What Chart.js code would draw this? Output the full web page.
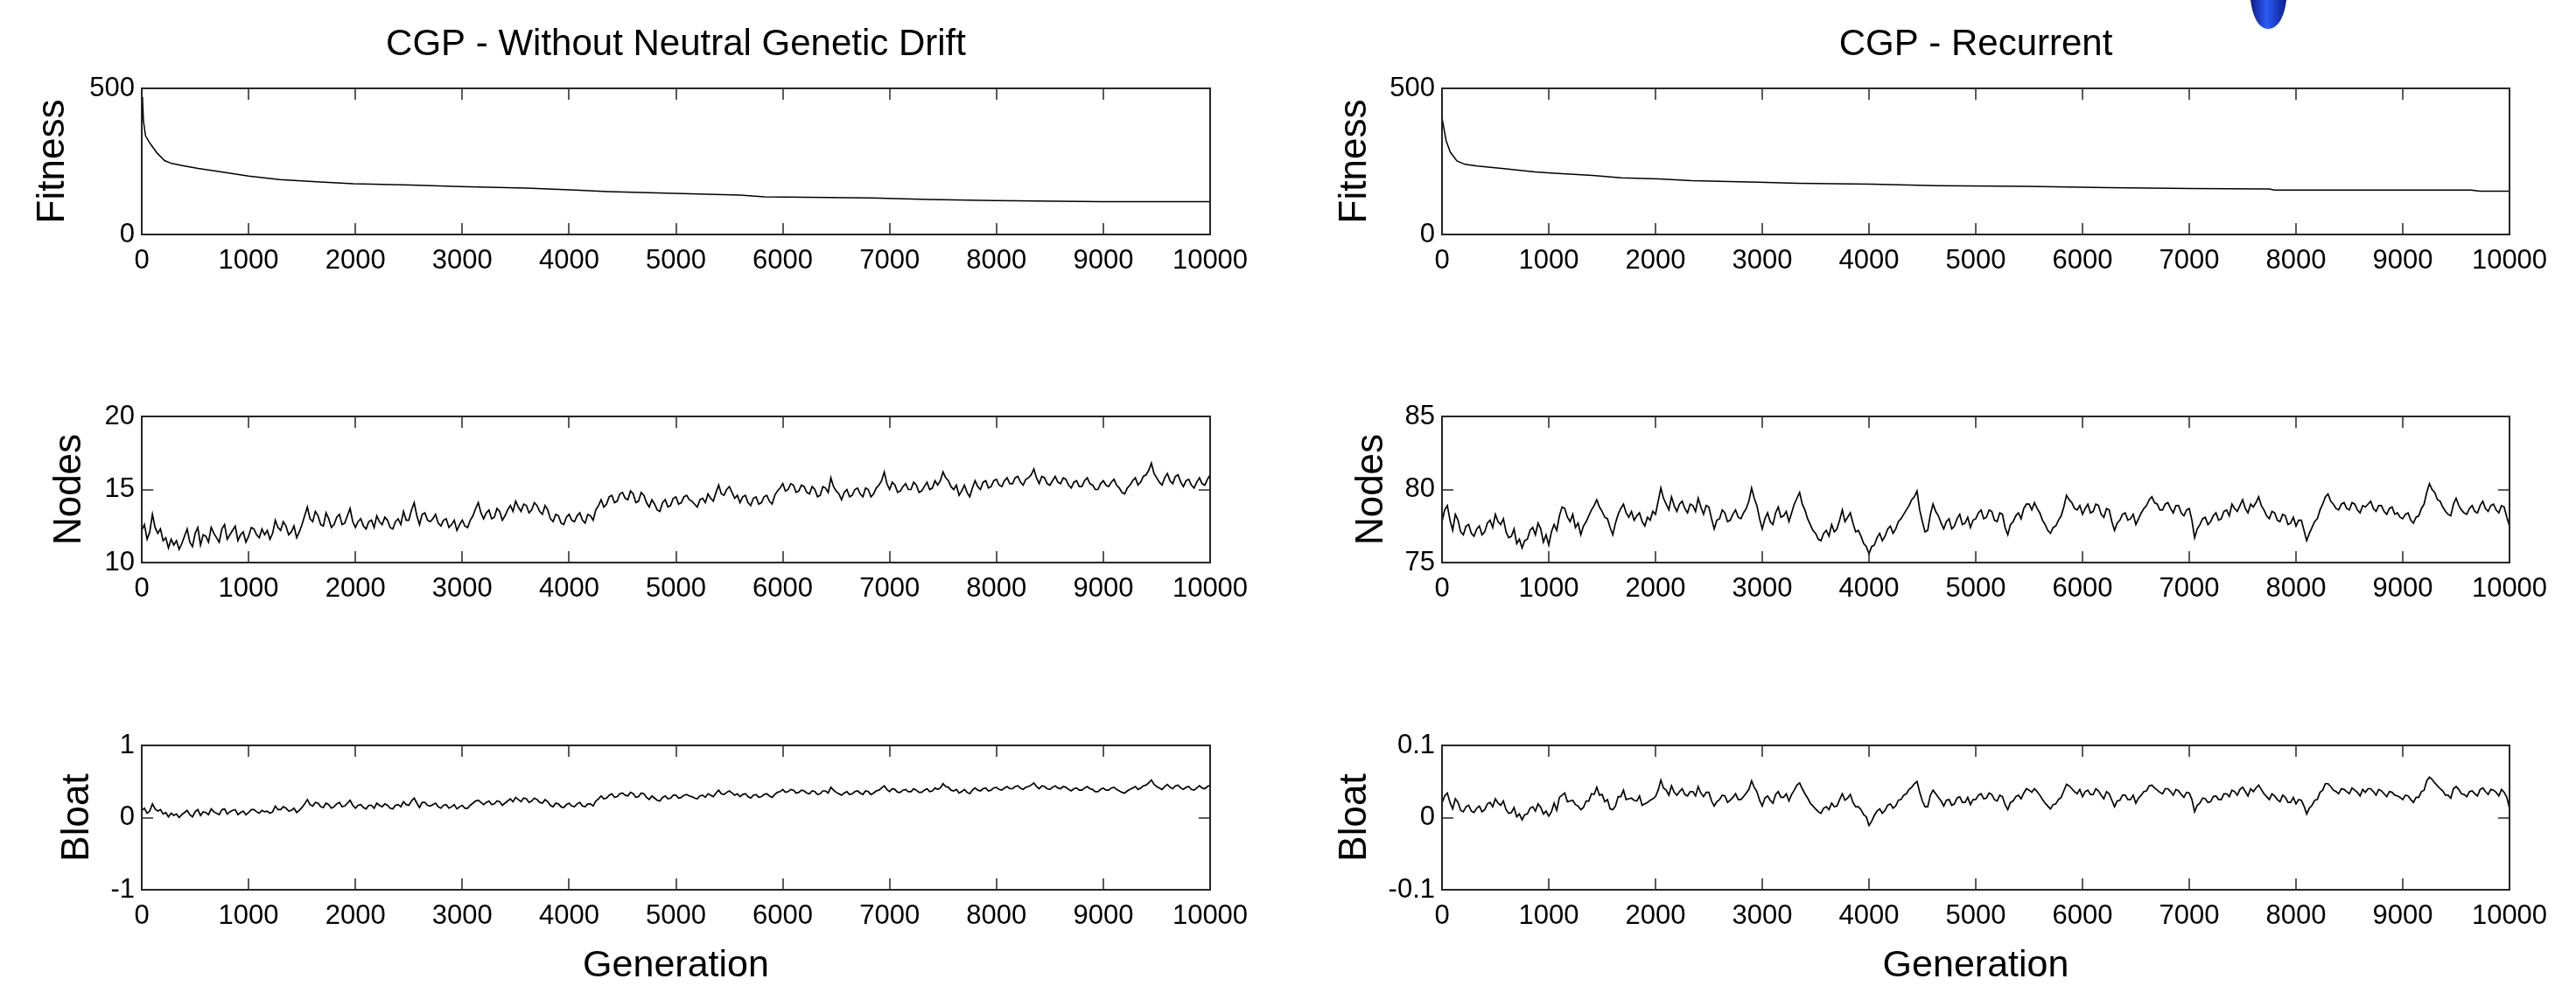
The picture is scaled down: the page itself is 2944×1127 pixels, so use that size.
<!DOCTYPE html>
<html>
<head>
<meta charset="utf-8">
<title>CGP - Without Neutral Genetic Drift / CGP - Recurrent</title>
<script src="https://cdn.jsdelivr.net/npm/chart.js@4.4.0/dist/chart.umd.min.js"></script>
<style>
  html, body { margin: 0; padding: 0; background: #fff; }
  #wrap { position: relative; width: 2944px; height: 1127px; overflow: hidden; background: #fff; }
  #wrap canvas { position: absolute; left: 0; top: 0; }
</style>
</head>
<body>
<div id="wrap">
  <canvas id="fitL" width="2944" height="1127"></canvas>
  <canvas id="fitR" width="2944" height="1127"></canvas>
  <canvas id="nodL" width="2944" height="1127"></canvas>
  <canvas id="nodR" width="2944" height="1127"></canvas>
  <canvas id="blL" width="2944" height="1127"></canvas>
  <canvas id="blR" width="2944" height="1127"></canvas>
</div>
<script>
'use strict';

// titles / labels
const titleLeft = 'CGP - Without Neutral Genetic Drift';
const titleRight = 'CGP - Recurrent';
const xLabel = 'Generation';

// fitness (generation, value)
const fitGenLeft = [0, 8, 16, 35, 77, 145, 213, 280, 390, 527, 637, 800, 1000, 1290, 1670, 1980, 2520, 2980, 3600, 4060, 4360, 5060, 5600, 5830, 6830, 7370, 7980, 8980, 10000];
const fitLeft = [470, 460, 388, 338, 312, 278, 253, 243, 235, 226, 220, 211, 200, 188, 180, 174, 169, 164, 159, 152, 147, 140, 135, 129, 125, 120, 116, 112, 112];

const fitGenRight = [0, 10, 38, 77, 140, 215, 330, 560, 870, 1020, 1410, 1680, 2030, 2340, 2960, 3330, 4030, 4640, 5480, 6250, 7020, 7750, 7800, 9640, 9720, 10000];
const fitRight = [400, 380, 322, 282, 252, 240, 234, 226, 214, 210, 202, 194, 190, 184, 179, 175, 172, 167, 165, 160, 157, 156, 152, 152, 148, 148];

// nodes / bloat: readings every 50 generations (0..10000)
// plus the in-between readings at 25, 75, ... 9975
const sampleStep = 50;

const nodesLeft = [
  12.2, 11.6, 13.3, 12.0, 11.5, 11.0, 11.2, 10.9, 11.8, 11.4, 12.0, 11.2, 11.8, 12.4, 11.7, 12.3, 11.6, 12.2, 11.5, 12.1,
  11.8, 12.3, 11.7, 11.9, 11.6, 12.9, 12.2, 12.5, 12.1, 11.7, 12.6, 13.8, 12.8, 13.2, 12.5, 13.0, 12.6, 13.3, 12.7, 13.7,
  12.4, 13.0, 12.3, 12.9, 13.2, 12.6, 12.9, 12.3, 13.0, 13.5, 12.9, 14.1, 12.6, 13.4, 12.8, 13.3, 12.5, 13.0, 12.6, 12.2,
  12.9, 12.4, 13.2, 14.1, 13.0, 13.6, 13.1, 13.5, 13.2, 13.9, 14.2, 13.5, 13.9, 13.6, 13.9, 13.3, 13.6, 12.8, 13.2, 12.6,
  13.3, 12.8, 13.4, 12.7, 13.2, 13.6, 14.3, 14.0, 14.6, 14.2, 14.8, 14.3, 14.7, 14.2, 14.6, 13.8, 14.0, 13.5, 14.3, 13.9,
  14.5, 14.1, 14.6, 14.2, 13.8, 14.4, 14.7, 14.2, 15.3, 14.6, 15.2, 14.4, 14.1, 14.6, 13.9, 14.5, 14.1, 14.6, 14.0, 14.9,
  15.4, 15.0, 15.3, 14.9, 15.2, 14.7, 15.0, 14.6, 15.1, 15.8, 14.9, 14.3, 15.0, 14.6, 15.1, 14.5, 15.0, 14.7, 15.3, 16.2,
  15.0, 15.3, 14.9, 15.4, 15.0, 15.3, 14.9, 15.5, 15.1, 15.3, 16.2, 15.6, 15.0, 14.6, 15.3, 14.5, 15.6, 15.0, 15.6, 15.2,
  15.7, 15.2, 15.8, 15.4, 15.9, 15.3, 15.8, 16.4, 15.4, 15.8, 15.3, 15.9, 15.4, 15.7, 15.1, 15.6, 15.2, 15.8, 15.3, 15.0,
  15.6, 15.2, 15.7, 15.1, 14.7, 15.3, 15.8, 15.5, 16.0, 16.8, 15.8, 15.3, 16.1, 15.4, 16.0, 15.2, 15.7, 15.1, 15.8, 15.3, 16.0
];
const nodesLeftMid = [
  12.6, 12.1, 12.4, 12.3, 11.7, 11.6, 11.5, 11.3, 12.3, 11.1, 12.4, 11.9, 11.4, 12.0, 11.4, 12.6, 11.9, 12.5, 11.9, 11.4,
  12.4, 11.9, 12.3, 12.2, 12.0, 12.4, 12.8, 11.9, 12.5, 12.1, 13.2, 13.0, 13.5, 12.6, 13.4, 12.4, 13.1, 12.6, 13.2, 12.8,
  12.8, 12.5, 12.8, 12.4, 12.8, 13.1, 12.4, 12.8, 12.6, 12.9, 13.6, 13.2, 13.3, 12.9, 13.0, 12.7, 12.9, 12.4, 12.9, 12.6,
  12.5, 12.9, 13.7, 13.4, 13.4, 13.0, 13.7, 12.9, 13.6, 13.5, 13.8, 14.0, 13.4, 14.1, 13.5, 13.9, 13.0, 13.3, 12.7, 13.1,
  12.9, 13.2, 12.9, 13.3, 12.9, 13.9, 13.8, 14.5, 14.1, 14.7, 14.4, 14.9, 14.1, 14.8, 14.1, 14.3, 13.6, 14.1, 13.8, 14.4,
  14.0, 14.5, 14.3, 14.0, 14.3, 14.1, 14.4, 14.8, 14.7, 15.0, 14.8, 14.6, 14.5, 14.1, 14.4, 14.0, 14.5, 14.2, 14.6, 15.1,
  14.9, 15.4, 14.8, 15.3, 14.8, 15.2, 14.5, 15.2, 14.8, 15.2, 14.7, 14.8, 14.5, 15.0, 14.7, 15.1, 14.5, 15.1, 15.6, 15.4,
  15.5, 14.8, 15.2, 15.0, 15.5, 14.8, 15.2, 15.0, 15.6, 15.6, 15.8, 15.2, 15.3, 14.9, 14.8, 15.1, 15.2, 15.5, 15.1, 15.6,
  15.3, 15.6, 15.4, 15.8, 15.5, 15.7, 16.0, 15.8, 15.9, 15.4, 15.6, 15.5, 15.8, 15.3, 15.5, 15.2, 15.6, 15.4, 15.0, 15.4,
  15.3, 15.5, 15.3, 14.8, 15.1, 15.6, 15.3, 15.9, 16.3, 16.1, 15.5, 15.8, 15.6, 15.9, 15.5, 15.6, 15.3, 15.5, 15.4, 15.7
];

const bloatLeft = [
  0.10, 0.06, 0.19, 0.09, 0.05, 0.01, 0.03, 0.00, 0.07, 0.04, 0.08, 0.03, 0.07, 0.12, 0.06, 0.11, 0.05, 0.10, 0.04, 0.09,
  0.07, 0.11, 0.06, 0.08, 0.06, 0.16, 0.11, 0.13, 0.10, 0.07, 0.14, 0.25, 0.16, 0.20, 0.14, 0.18, 0.15, 0.21, 0.16, 0.24,
  0.13, 0.18, 0.12, 0.17, 0.20, 0.15, 0.17, 0.12, 0.18, 0.22, 0.17, 0.27, 0.14, 0.21, 0.16, 0.20, 0.13, 0.18, 0.15, 0.12,
  0.17, 0.13, 0.20, 0.24, 0.18, 0.23, 0.19, 0.22, 0.20, 0.26, 0.28, 0.22, 0.26, 0.23, 0.25, 0.20, 0.22, 0.15, 0.19, 0.14,
  0.20, 0.15, 0.21, 0.15, 0.19, 0.23, 0.30, 0.27, 0.33, 0.29, 0.34, 0.30, 0.33, 0.29, 0.33, 0.25, 0.27, 0.23, 0.30, 0.27,
  0.31, 0.28, 0.32, 0.29, 0.26, 0.31, 0.33, 0.29, 0.38, 0.32, 0.37, 0.31, 0.29, 0.33, 0.27, 0.32, 0.29, 0.33, 0.28, 0.35,
  0.39, 0.36, 0.38, 0.35, 0.37, 0.33, 0.36, 0.33, 0.37, 0.42, 0.35, 0.31, 0.36, 0.33, 0.37, 0.32, 0.36, 0.34, 0.38, 0.44,
  0.36, 0.39, 0.35, 0.39, 0.36, 0.38, 0.35, 0.40, 0.37, 0.39, 0.47, 0.42, 0.37, 0.34, 0.39, 0.33, 0.41, 0.37, 0.41, 0.38,
  0.42, 0.38, 0.43, 0.40, 0.44, 0.39, 0.43, 0.48, 0.40, 0.43, 0.39, 0.44, 0.40, 0.42, 0.37, 0.41, 0.38, 0.43, 0.39, 0.36,
  0.41, 0.38, 0.42, 0.37, 0.34, 0.39, 0.43, 0.41, 0.45, 0.52, 0.43, 0.39, 0.46, 0.40, 0.45, 0.39, 0.43, 0.38, 0.44, 0.40, 0.45
];
const bloatLeftMid = [
  0.13, 0.09, 0.12, 0.11, 0.07, 0.06, 0.05, 0.04, 0.10, 0.01, 0.11, 0.08, 0.04, 0.08, 0.04, 0.12, 0.08, 0.11, 0.07, 0.04,
  0.11, 0.08, 0.10, 0.09, 0.08, 0.11, 0.15, 0.09, 0.13, 0.10, 0.19, 0.18, 0.21, 0.15, 0.20, 0.13, 0.19, 0.15, 0.20, 0.17,
  0.17, 0.14, 0.17, 0.13, 0.17, 0.19, 0.13, 0.17, 0.15, 0.18, 0.23, 0.20, 0.21, 0.17, 0.18, 0.15, 0.17, 0.13, 0.18, 0.15,
  0.13, 0.17, 0.23, 0.21, 0.21, 0.18, 0.23, 0.17, 0.23, 0.22, 0.25, 0.27, 0.21, 0.27, 0.21, 0.25, 0.17, 0.20, 0.15, 0.18,
  0.16, 0.19, 0.16, 0.19, 0.16, 0.26, 0.26, 0.31, 0.28, 0.33, 0.31, 0.35, 0.28, 0.34, 0.28, 0.30, 0.24, 0.28, 0.26, 0.31,
  0.27, 0.31, 0.30, 0.27, 0.30, 0.28, 0.31, 0.34, 0.33, 0.35, 0.34, 0.33, 0.32, 0.29, 0.31, 0.28, 0.32, 0.30, 0.32, 0.36,
  0.35, 0.39, 0.34, 0.38, 0.34, 0.37, 0.32, 0.37, 0.34, 0.38, 0.33, 0.34, 0.32, 0.36, 0.34, 0.37, 0.32, 0.37, 0.41, 0.39,
  0.40, 0.35, 0.38, 0.36, 0.40, 0.35, 0.38, 0.36, 0.41, 0.41, 0.43, 0.38, 0.39, 0.36, 0.35, 0.38, 0.38, 0.40, 0.37, 0.41,
  0.39, 0.41, 0.40, 0.43, 0.41, 0.42, 0.45, 0.43, 0.44, 0.40, 0.42, 0.41, 0.43, 0.39, 0.40, 0.38, 0.41, 0.40, 0.36, 0.39,
  0.38, 0.41, 0.39, 0.35, 0.37, 0.41, 0.39, 0.44, 0.48, 0.46, 0.41, 0.43, 0.42, 0.44, 0.41, 0.42, 0.39, 0.41, 0.41, 0.43
];

const nodesRight = [
  77.8, 78.9, 77.2, 77.9, 76.9, 77.6, 76.8, 77.5, 77.1, 77.9, 78.3, 77.6, 77.1, 76.8, 76.3, 76.0, 76.6, 77.4, 77.7, 76.4,
  76.2, 77.6, 78.2, 78.7, 77.8, 77.4, 76.9, 77.8, 78.6, 79.3, 78.5, 78.0, 76.9, 78.3, 79.0, 78.1, 77.9, 78.4, 77.5, 77.9,
  78.3, 80.1, 79.0, 79.5, 78.5, 79.2, 78.4, 78.9, 79.4, 78.3, 78.8, 77.3, 78.0, 78.4, 77.9, 78.6, 78.0, 78.7, 80.1, 78.9,
  77.3, 78.4, 77.6, 78.8, 78.2, 77.8, 79.0, 79.8, 78.6, 77.6, 77.0, 76.5, 77.2, 77.6, 77.3, 78.6, 78.1, 77.7, 77.2, 76.3,
  75.6, 76.2, 77.0, 76.8, 77.5, 77.3, 78.0, 78.6, 79.3, 79.9, 77.8, 77.2, 79.0, 78.2, 77.3, 78.0, 77.5, 78.3, 77.7, 77.4,
  78.0, 78.6, 78.1, 78.5, 77.8, 78.3, 76.9, 77.8, 78.4, 78.7, 79.0, 79.1, 78.4, 77.6, 77.0, 77.5, 78.2, 79.6, 79.1, 78.6,
  78.3, 79.0, 78.5, 78.9, 78.1, 78.6, 77.2, 77.9, 78.4, 78.0, 77.6, 78.4, 78.9, 79.5, 79.0, 78.6, 79.1, 78.4, 78.9, 78.2,
  78.7, 76.7, 77.6, 78.1, 77.8, 78.4, 78.0, 78.6, 79.0, 78.5, 79.3, 78.4, 78.8, 79.5, 78.6, 78.0, 78.4, 77.8, 78.2, 77.7,
  77.5, 77.9, 76.5, 77.4, 78.0, 79.0, 79.7, 79.0, 78.6, 79.1, 78.6, 79.0, 78.4, 78.8, 79.2, 78.5, 78.9, 78.3, 78.8, 78.4,
  78.0, 78.4, 77.7, 78.2, 79.0, 80.4, 79.8, 79.2, 78.5, 78.2, 79.4, 78.6, 78.3, 78.9, 78.4, 79.2, 78.5, 79.0, 78.4, 78.8, 77.5
];
const nodesRightMid = [
  78.6, 77.9, 78.3, 77.1, 77.5, 77.0, 77.3, 76.9, 77.7, 77.4, 77.8, 78.0, 76.7, 77.3, 76.6, 76.5, 77.2, 76.9, 77.3, 76.9,
  77.1, 77.2, 78.8, 78.1, 78.3, 77.7, 77.5, 78.2, 78.9, 78.8, 78.1, 77.4, 77.7, 78.7, 78.4, 78.5, 78.2, 77.8, 78.1, 78.5,
  79.2, 79.4, 78.6, 78.9, 79.0, 78.7, 79.0, 78.5, 78.8, 78.9, 78.0, 77.9, 78.6, 77.8, 78.3, 78.1, 78.4, 79.2, 79.4, 78.0,
  78.0, 77.8, 78.4, 78.1, 78.5, 78.4, 79.4, 79.0, 78.0, 77.2, 76.6, 77.0, 76.8, 77.1, 77.9, 77.8, 78.4, 77.1, 76.8, 76.1,
  76.1, 76.7, 76.5, 77.3, 77.0, 77.8, 78.3, 78.9, 79.5, 78.6, 77.1, 78.3, 78.5, 77.7, 77.8, 77.3, 78.0, 77.6, 78.1, 77.9,
  78.4, 78.0, 78.6, 77.9, 78.4, 77.4, 77.6, 78.2, 78.0, 79.0, 78.6, 78.7, 77.9, 77.2, 77.4, 77.9, 78.8, 79.3, 78.7, 78.9,
  78.7, 78.4, 79.0, 78.3, 78.7, 77.8, 77.7, 78.3, 77.9, 78.3, 78.0, 78.7, 79.3, 79.1, 78.6, 79.0, 78.7, 78.9, 78.4, 78.6,
  77.9, 77.3, 78.0, 77.6, 78.2, 77.9, 78.5, 78.2, 78.7, 78.9, 78.7, 79.0, 79.1, 78.9, 78.2, 78.5, 77.9, 78.3, 77.6, 78.1,
  77.9, 77.2, 77.0, 77.8, 78.6, 79.5, 79.2, 78.7, 79.0, 78.7, 79.1, 78.6, 78.9, 79.0, 78.7, 78.9, 78.5, 78.7, 78.3, 78.1,
  78.3, 77.9, 78.1, 78.7, 79.8, 80.0, 79.3, 78.8, 78.3, 79.0, 78.9, 78.4, 78.7, 78.5, 78.9, 78.7, 78.9, 78.6, 78.9, 78.1
];

const bloatRight = [
  0.020, 0.034, 0.012, 0.021, 0.008, 0.017, 0.007, 0.016, 0.011, 0.021, 0.026, 0.017, 0.011, 0.007, 0.001, -0.003, 0.005, 0.015, 0.019, 0.005,
  0.002, 0.020, 0.028, 0.034, 0.023, 0.018, 0.011, 0.023, 0.033, 0.042, 0.032, 0.025, 0.011, 0.029, 0.038, 0.026, 0.024, 0.030, 0.019, 0.024,
  0.029, 0.052, 0.038, 0.044, 0.031, 0.040, 0.030, 0.036, 0.043, 0.029, 0.035, 0.016, 0.025, 0.030, 0.024, 0.033, 0.025, 0.034, 0.051, 0.036,
  0.016, 0.030, 0.020, 0.036, 0.028, 0.023, 0.038, 0.048, 0.033, 0.020, 0.012, 0.006, 0.015, 0.020, 0.016, 0.033, 0.027, 0.021, 0.015, 0.004,
  -0.011, 0.003, 0.012, 0.010, 0.019, 0.016, 0.025, 0.033, 0.042, 0.050, 0.023, 0.015, 0.038, 0.028, 0.016, 0.025, 0.019, 0.029, 0.021, 0.018,
  0.025, 0.033, 0.027, 0.032, 0.023, 0.029, 0.011, 0.023, 0.031, 0.034, 0.038, 0.040, 0.031, 0.020, 0.012, 0.019, 0.028, 0.046, 0.040, 0.033,
  0.029, 0.038, 0.032, 0.037, 0.026, 0.033, 0.015, 0.024, 0.031, 0.025, 0.020, 0.031, 0.037, 0.045, 0.038, 0.033, 0.040, 0.031, 0.037, 0.028,
  0.034, 0.008, 0.020, 0.026, 0.022, 0.030, 0.025, 0.033, 0.038, 0.031, 0.042, 0.030, 0.036, 0.045, 0.033, 0.025, 0.030, 0.022, 0.028, 0.021,
  0.019, 0.024, 0.005, 0.017, 0.025, 0.038, 0.047, 0.038, 0.033, 0.039, 0.033, 0.038, 0.030, 0.035, 0.040, 0.031, 0.037, 0.029, 0.035, 0.030,
  0.025, 0.030, 0.021, 0.028, 0.038, 0.056, 0.048, 0.040, 0.031, 0.027, 0.043, 0.033, 0.029, 0.037, 0.030, 0.041, 0.032, 0.038, 0.030, 0.035, 0.013
];
const bloatRightMid = [
  0.030, 0.021, 0.026, 0.010, 0.015, 0.009, 0.013, 0.008, 0.019, 0.015, 0.020, 0.023, 0.006, 0.014, 0.005, 0.004, 0.013, 0.009, 0.014, 0.009,
  0.008, 0.010, 0.031, 0.022, 0.024, 0.016, 0.014, 0.023, 0.032, 0.031, 0.022, 0.012, 0.016, 0.029, 0.025, 0.027, 0.023, 0.017, 0.021, 0.026,
  0.038, 0.041, 0.031, 0.035, 0.036, 0.032, 0.036, 0.030, 0.034, 0.035, 0.023, 0.022, 0.031, 0.021, 0.028, 0.025, 0.029, 0.039, 0.042, 0.024,
  0.027, 0.024, 0.032, 0.028, 0.033, 0.032, 0.045, 0.040, 0.027, 0.016, 0.008, 0.013, 0.011, 0.015, 0.025, 0.024, 0.032, 0.015, 0.011, 0.001,
  -0.005, 0.009, 0.006, 0.017, 0.013, 0.024, 0.031, 0.039, 0.047, 0.035, 0.015, 0.031, 0.033, 0.023, 0.024, 0.017, 0.027, 0.021, 0.028, 0.025,
  0.031, 0.026, 0.034, 0.025, 0.031, 0.018, 0.021, 0.029, 0.026, 0.040, 0.035, 0.036, 0.025, 0.016, 0.018, 0.025, 0.037, 0.044, 0.036, 0.039,
  0.036, 0.032, 0.040, 0.031, 0.036, 0.024, 0.023, 0.031, 0.025, 0.031, 0.027, 0.036, 0.044, 0.041, 0.035, 0.040, 0.036, 0.039, 0.032, 0.035,
  0.025, 0.017, 0.027, 0.021, 0.029, 0.025, 0.033, 0.029, 0.036, 0.039, 0.036, 0.040, 0.041, 0.039, 0.029, 0.033, 0.025, 0.031, 0.021, 0.028,
  0.025, 0.016, 0.013, 0.024, 0.035, 0.047, 0.043, 0.036, 0.040, 0.036, 0.041, 0.035, 0.039, 0.040, 0.036, 0.039, 0.033, 0.036, 0.031, 0.028,
  0.031, 0.025, 0.028, 0.036, 0.051, 0.053, 0.044, 0.037, 0.031, 0.040, 0.039, 0.032, 0.036, 0.033, 0.039, 0.036, 0.039, 0.035, 0.039, 0.028
];

// axis ranges
const genMin = 0, genMax = 10000, genStep = 1000;

const FONT = "'Liberation Sans', Arial, Helvetica, sans-serif";
const TICK_LEN = 13;
const W = 2944, H = 1127;
const X_AXIS_H = 110;

// plot boxes in page pixels
const cols = [{left: 162, right: 1383}, {left: 1648, right: 2868}];
const rows = [{top: 101, bottom: 268}, {top: 476, bottom: 643}, {top: 852, bottom: 1017}];

function toPoints(xs, ys) {
  return ys.map((v, i) => ({x: xs[i], y: v}));
}
// merge the 50-step readings with the in-between ones
function sampled(main, mid) {
  const pts = [];
  main.forEach((v, i) => {
    pts.push({x: i * sampleStep, y: v});
    if (i < mid.length) pts.push({x: i * sampleStep + sampleStep / 2, y: mid[i]});
  });
  return pts;
}

// box with inward ticks on all sides
const boxTicks = {
  id: 'boxTicks',
  afterDatasetsDraw(chart) {
    const {ctx, chartArea: a, scales} = chart;
    const xs = scales.x, ys = scales.y;
    ctx.save();
    ctx.strokeStyle = '#262626';
    ctx.lineWidth = 1.5;
    ctx.beginPath();
    xs.ticks.forEach(t => {
      const px = Math.round(xs.getPixelForValue(t.value));
      ctx.moveTo(px, a.top); ctx.lineTo(px, a.top + TICK_LEN);
      ctx.moveTo(px, a.bottom); ctx.lineTo(px, a.bottom - TICK_LEN);
    });
    ys.ticks.forEach(t => {
      const py = Math.round(ys.getPixelForValue(t.value));
      ctx.moveTo(a.left, py); ctx.lineTo(a.left + TICK_LEN, py);
      ctx.moveTo(a.right, py); ctx.lineTo(a.right - TICK_LEN, py);
    });
    ctx.stroke();
    ctx.lineWidth = 2;
    ctx.strokeRect(a.left, a.top, a.right - a.left, a.bottom - a.top);
    ctx.restore();
  }
};

// stray blue blob at the top of the original figure
const blueBlob = {
  id: 'blueBlob',
  afterDraw(chart) {
    const ctx = chart.ctx;
    ctx.save();
    const g = ctx.createLinearGradient(2572, 0, 2613, 0);
    g.addColorStop(0, '#0b1c8e');
    g.addColorStop(0.45, '#2d5cf2');
    g.addColorStop(1, '#0b1c8e');
    ctx.fillStyle = g;
    ctx.beginPath();
    ctx.moveTo(2572, 0);
    ctx.bezierCurveTo(2574, 16, 2580, 33, 2592, 33);
    ctx.bezierCurveTo(2605, 33, 2611, 16, 2613, 0);
    ctx.closePath();
    ctx.fill();
    ctx.restore();
  }
};

function makePanel(id, col, row, opt) {
  const c = cols[col], r = rows[row];
  const yTitleSize = 44;
  const yWidth = opt.yTitleOff + yTitleSize / 2;
  const titleSize = 42;
  const titleLine = titleSize * 1.2;
  const topPad = opt.title ? 26 : r.top;
  const plugins = [boxTicks];
  if (opt.extra) plugins.push(opt.extra);

  new Chart(document.getElementById(id), {
    type: 'line',
    data: {
      datasets: [{
        data: opt.data,
        borderColor: '#000',
        borderWidth: opt.lw || 1.5,
        pointRadius: 0,
        tension: 0,
        fill: false
      }]
    },
    options: {
      responsive: false,
      animation: false,
      events: [],
      parsing: false,
      layout: {
        padding: {
          left: c.left - yWidth,
          right: W - c.right,
          top: topPad,
          bottom: H - r.bottom - X_AXIS_H
        }
      },
      plugins: {
        legend: {display: false},
        tooltip: {enabled: false},
        title: {
          display: !!opt.title,
          text: opt.title || '',
          fullSize: false,
          color: '#000',
          font: {family: FONT, size: titleSize, weight: 'normal', lineHeight: 1.2},
          padding: {top: 0, bottom: r.top - topPad - titleLine}
        }
      },
      scales: {
        x: {
          type: 'linear',
          min: genMin,
          max: genMax,
          grid: {display: false, drawTicks: false},
          border: {display: false},
          ticks: {
            stepSize: genStep,
            autoSkip: false,
            maxRotation: 0,
            padding: 12,
            color: '#000',
            font: {family: FONT, size: 31, lineHeight: 1.2},
            callback: v => String(v)
          },
          title: {
            display: !!opt.xTitle,
            text: opt.xTitle || '',
            color: '#000',
            font: {family: FONT, size: 43, lineHeight: 1},
            padding: {top: 0, bottom: 1.5}
          },
          afterFit: s => { s.height = X_AXIS_H; }
        },
        y: {
          type: 'linear',
          min: opt.yMin,
          max: opt.yMax,
          grid: {display: false, drawTicks: false},
          border: {display: false},
          ticks: {
            stepSize: opt.yStep,
            padding: 8,
            color: '#000',
            font: {family: FONT, size: 31, lineHeight: 1.2},
            callback: v => String(Math.round(v * 1000) / 1000)
          },
          title: {
            display: true,
            text: opt.yTitle,
            color: '#000',
            font: {family: FONT, size: yTitleSize, lineHeight: 1},
            padding: {top: 0, bottom: 0}
          },
          afterFit: s => { s.width = yWidth; }
        }
      }
    },
    plugins: plugins
  });
}

makePanel('fitL', 0, 0, {title: titleLeft, yTitle: 'Fitness', yMin: 0, yMax: 500, yStep: 500, yTitleOff: 101,
  data: toPoints(fitGenLeft, fitLeft)});
makePanel('fitR', 1, 0, {title: titleRight, yTitle: 'Fitness', yMin: 0, yMax: 500, yStep: 500, yTitleOff: 99,
  data: toPoints(fitGenRight, fitRight), extra: blueBlob});
makePanel('nodL', 0, 1, {yTitle: 'Nodes', yMin: 10, yMax: 20, yStep: 5, yTitleOff: 82, lw: 1.7,
  data: sampled(nodesLeft, nodesLeftMid)});
makePanel('nodR', 1, 1, {yTitle: 'Nodes', yMin: 75, yMax: 85, yStep: 5, yTitleOff: 80, lw: 1.7,
  data: sampled(nodesRight, nodesRightMid)});
makePanel('blL', 0, 2, {yTitle: 'Bloat', yMin: -1, yMax: 1, yStep: 1, yTitleOff: 73, xTitle: xLabel, lw: 1.7,
  data: sampled(bloatLeft, bloatLeftMid)});
makePanel('blR', 1, 2, {yTitle: 'Bloat', yMin: -0.1, yMax: 0.1, yStep: 0.1, yTitleOff: 99, xTitle: xLabel, lw: 1.7,
  data: sampled(bloatRight, bloatRightMid)});
</script>
</body>
</html>
